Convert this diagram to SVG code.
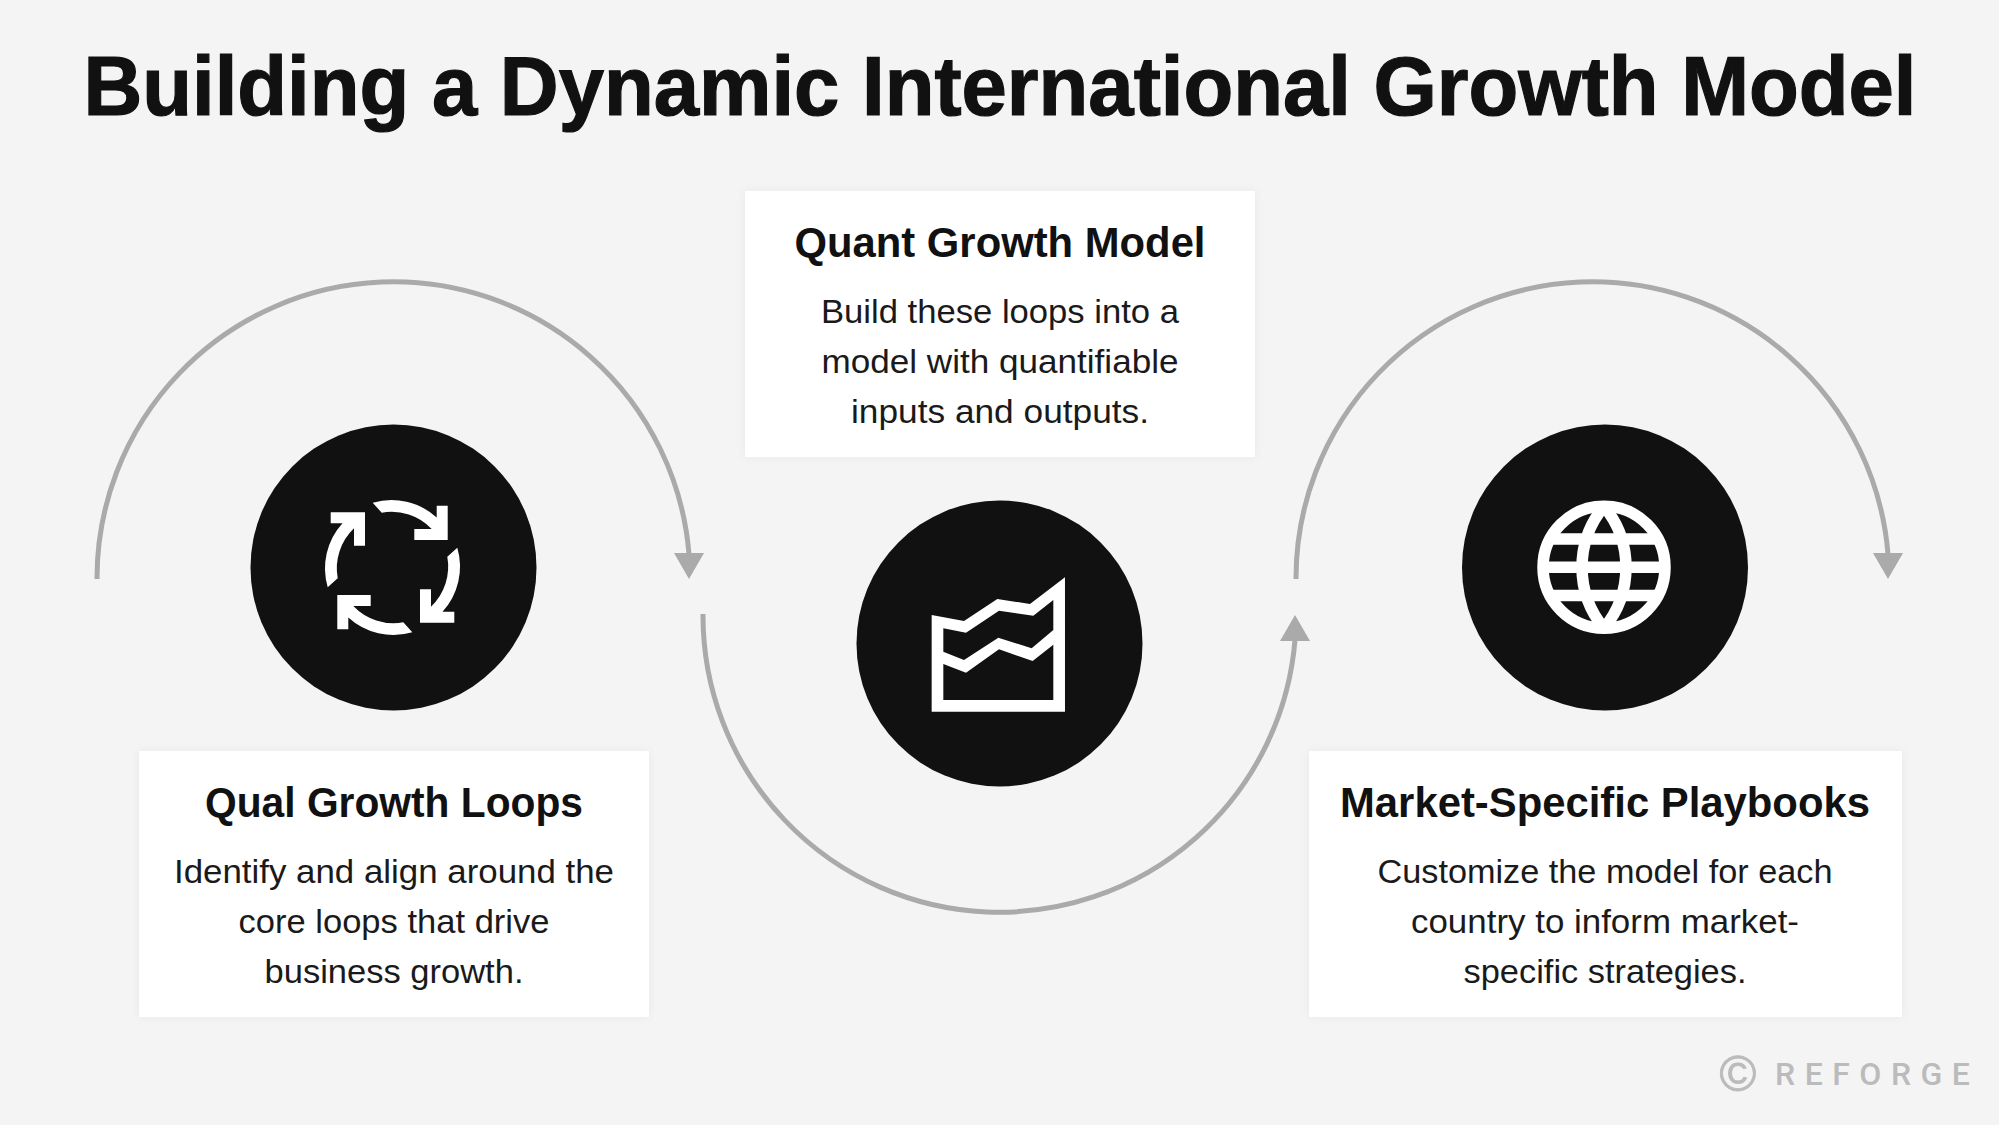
<svg xmlns="http://www.w3.org/2000/svg" width="1999" height="1125" viewBox="0 0 1999 1125">
<style>
text{font-family:"Liberation Sans",Arial,sans-serif;text-anchor:middle}
.title{font-size:83px;font-weight:700;fill:#111;stroke:#111;stroke-width:1.2}
.h{font-size:43px;font-weight:700;fill:#111}
.b{font-size:34px;fill:#1a1a1a}
.box{fill:#fff;filter:url(#soft)}
.disc{fill:#111}
.ico{fill:#fff}
.arc{fill:none;stroke:#aaa;stroke-width:5}
</style>
<defs>
<filter id="soft" x="-5%" y="-5%" width="110%" height="110%"><feDropShadow dx="0" dy="0" stdDeviation="4" flood-color="#000" flood-opacity=".05"/></filter>
<marker id="down" markerUnits="userSpaceOnUse" markerWidth="32" markerHeight="28" refX="15" refY="1" orient="0"><path d="M0 0H30L15 26Z" fill="#aaa"/></marker>
<marker id="up" markerUnits="userSpaceOnUse" markerWidth="32" markerHeight="28" refX="15" refY="25" orient="0"><path d="M0 26H30L15 0Z" fill="#aaa"/></marker>
<path id="loop" d="M-19.8 -64.8A67 67 0 0 1 44.2 -50L44.2 -61.8L55.2 -61.8L55.2 -27.5L21.8 -27.5L21.8 -38.5L39.2 -38.5A55.5 55.5 0 0 0 -10.8 -54.8Z"/>
</defs>
<rect width="1999" height="1125" fill="#f4f4f4"/>
<text class="title" x="1000" y="114.5" textLength="1833" lengthAdjust="spacingAndGlyphs">Building a Dynamic International Growth Model</text>
<g id="connectors">
<path class="arc" d="M97 579A296.5 296.5 0 0 1 689 554" marker-end="url(#down)"/>
<path class="arc" d="M703 614A296.5 296.5 0 0 0 1295 640" marker-end="url(#up)"/>
<path class="arc" d="M1296 579A296.5 296.5 0 0 1 1888 554" marker-end="url(#down)"/>
</g>
<g id="qual">
<circle class="disc" cx="393.5" cy="567.5" r="143"/>
<g class="ico" transform="translate(392.5 567.5)">
<use href="#loop"/><use href="#loop" transform="rotate(90)"/><use href="#loop" transform="rotate(180)"/><use href="#loop" transform="rotate(270)"/>
</g>
<rect class="box" x="139" y="751" width="510" height="266"/>
<text class="h" x="394" y="817" textLength="378" lengthAdjust="spacingAndGlyphs">Qual Growth Loops</text>
<text class="b" x="394" y="883" textLength="440" lengthAdjust="spacingAndGlyphs">Identify and align around the</text>
<text class="b" x="394" y="933" textLength="311" lengthAdjust="spacingAndGlyphs">core loops that drive</text>
<text class="b" x="394" y="983" textLength="259" lengthAdjust="spacingAndGlyphs">business growth.</text>
</g>
<g id="quant">
<circle class="disc" cx="999.5" cy="643.5" r="143"/>
<path class="ico" fill-rule="evenodd" transform="translate(890 550) scale(.3333)" d="M125 195L222 213L322 147L420 162L525 82V485H125ZM160 235L228 248L327 182L430 197L490 150V240L425 295L325 263L222 330L160 305ZM160 342L228 368L327 298L428 333L490 284V450H160Z"/>
<rect class="box" x="745" y="191" width="510" height="266"/>
<text class="h" x="1000" y="257" textLength="411" lengthAdjust="spacingAndGlyphs">Quant Growth Model</text>
<text class="b" x="1000" y="323" textLength="358" lengthAdjust="spacingAndGlyphs">Build these loops into a</text>
<text class="b" x="1000" y="373" textLength="357" lengthAdjust="spacingAndGlyphs">model with quantifiable</text>
<text class="b" x="1000" y="423" textLength="298" lengthAdjust="spacingAndGlyphs">inputs and outputs.</text>
</g>
<g id="market">
<circle class="disc" cx="1605" cy="567.5" r="143"/>
<g transform="translate(1604 567.3)" fill="none" stroke="#fff" stroke-width="11.5" stroke-linejoin="bevel">
<circle r="61"/>
<path d="M0 -61A95.6 95.6 0 0 0 0 61A95.6 95.6 0 0 0 0 -61Z"/>
<path d="M-54 -28.3H54M-61 0H61M-54 28.3H54"/>
</g>
<rect class="box" x="1309" y="751" width="593" height="266"/>
<text class="h" x="1605" y="817" textLength="530" lengthAdjust="spacingAndGlyphs">Market-Specific Playbooks</text>
<text class="b" x="1605" y="883" textLength="455" lengthAdjust="spacingAndGlyphs">Customize the model for each</text>
<text class="b" x="1605" y="933" textLength="388" lengthAdjust="spacingAndGlyphs">country to inform market-</text>
<text class="b" x="1605" y="983" textLength="283" lengthAdjust="spacingAndGlyphs">specific strategies.</text>
</g>
<g id="watermark">
<text x="1738" y="1091" font-size="50" fill="#bbb" stroke="#bbb" stroke-width=".8">©</text>
<text x="1775" y="1085" font-size="32" font-weight="500" fill="#bbb" letter-spacing="9.5" style="font-family:Roboto,sans-serif;text-anchor:start">REFORGE</text>
</g>
</svg>
